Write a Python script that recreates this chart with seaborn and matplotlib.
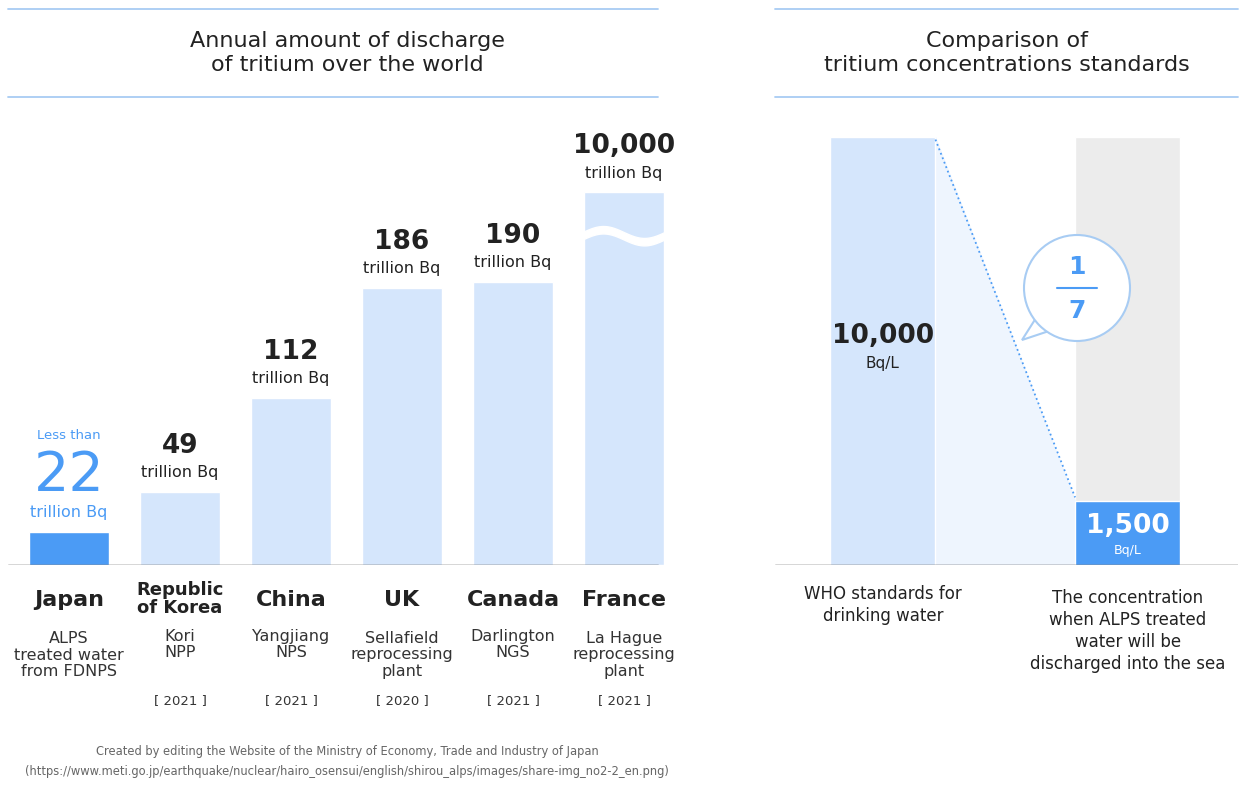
import numpy as np
import matplotlib.pyplot as plt
import seaborn as sns
from matplotlib.patches import Ellipse, Polygon

plt.rcParams['font.family'] = 'Noto Sans'
sns.set_style('white')

W, H = 1245, 786

# data
countries = ['Japan', 'Republic\nof Korea', 'China', 'UK', 'Canada', 'France']
facilities = ['ALPS\ntreated water\nfrom FDNPS', 'Kori\nNPP', 'Yangjiang\nNPS',
              'Sellafield\nreprocessing\nplant', 'Darlington\nNGS', 'La Hague\nreprocessing\nplant']
years = ['', '2021', '2021', '2020', '2021', '2021']
discharge = [22, 49, 112, 186, 190, 10000]   # trillion Bq
display_cap = 250                             # France drawn with axis break

std_labels = ['WHO standards for\ndrinking water',
              'The concentration\nwhen ALPS treated\nwater will be\ndischarged into the sea']
std_values = [10000, 1500]                    # Bq/L

LIGHT = '#d5e6fc'
BLUE = '#4b9bf5'
GRAY = '#ececec'
LINE = '#a8ccf3'
DARK = '#222222'

fig = plt.figure(figsize=(W / 100, H / 100), dpi=100)

def fx(x):
    return x / W

def fy(y):
    return 1 - y / H

def ftext(x, y, s, **kw):
    fig.text(fx(x), fy(y), s, ha='center', va='center', color=kw.pop('color', DARK), **kw)

# ---------- left chart ----------
axL = fig.add_axes([fx(8), fy(565), fx(660), (565 - 100) / H])
shown = [min(v, display_cap) for v in discharge]
idx = list(range(len(countries)))
cols = [BLUE] + [LIGHT] * 5
sns.barplot(x=idx, y=shown, palette=cols, hue=idx, legend=False, saturation=1,
            width=0.72, ax=axL, native_scale=True)
axL.set_xlim(-0.55, 5.4)
axL.set_ylim(0, 465 / 1.49)
axL.axis('off')
axL.axhline(0, xmax=650 / 660, color='#333333', lw=1)

# axis break wave on France bar
xs = np.linspace(5 - 0.37, 5 + 0.37, 200)
wave = 221 + 4 * np.sin((xs - xs[0]) / 0.74 * 2 * np.pi)
axL.fill_between(xs, wave - 2.5, wave + 2.5, color='white', zorder=5)

for i, v in enumerate(discharge):
    top = shown[i]
    if i == 0:
        axL.text(i, top + 65, 'Less than', ha='center', va='center', color=BLUE, fontsize=9.5)
        axL.text(i, top + 38, f'{v}', ha='center', va='center', color=BLUE, fontsize=40)
        axL.text(i, top + 13, 'trillion Bq', ha='center', va='center', color=BLUE, fontsize=11.5)
    else:
        axL.text(i, top + 31, f'{v:,}', ha='center', va='center', color=DARK,
                 fontsize=19, fontweight='semibold')
        axL.text(i, top + 13, 'trillion Bq', ha='center', va='center', color=DARK, fontsize=11.5)

centers = [69, 180, 291, 402, 513, 624]
for i, cx in enumerate(centers):
    if '\n' in countries[i]:
        ftext(cx, 599, countries[i], fontsize=13, fontweight='semibold', linespacing=1.05)
    else:
        ftext(cx, 600, countries[i], fontsize=16, fontweight='semibold')
    n = facilities[i].count('\n') + 1
    ftext(cx, 634 + (n - 1) * 10.5 if n > 1 else 645, facilities[i], fontsize=11.5,
          color='#333333', linespacing=1.15)
    if years[i]:
        ftext(cx, 701, f'[ {years[i]} ]', fontsize=9.5, color='#333333')

ftext(347, 53, 'Annual amount of discharge\nof tritium over the world', fontsize=16, linespacing=1.25)
for y in (9, 97):
    fig.add_artist(plt.Line2D([fx(8), fx(658)], [fy(y), fy(y)], color=LINE, lw=1.3))

ftext(347, 761, 'Created by editing the Website of the Ministry of Economy, Trade and Industry of Japan\n'
      '(https://www.meti.go.jp/earthquake/nuclear/hairo_osensui/english/shirou_alps/images/share-img_no2-2_en.png)',
      fontsize=8.3, color='#666666', linespacing=1.7)

# ---------- right chart ----------
axR = fig.add_axes([fx(775), fy(565), fx(463), (565 - 100) / H])
axR.set_xlim(-0.44, 1.45)
ymax = std_values[0] * 465 / 428
axR.set_ylim(0, ymax)
axR.axis('off')
bw = 0.43
axR.bar([1], [std_values[0]], width=bw, color=GRAY, zorder=1)
sns.barplot(x=[0, 1], y=std_values, hue=[0, 1], palette=[LIGHT, BLUE], legend=False,
            saturation=1, width=bw, native_scale=True, ax=axR, zorder=2)
axR.add_patch(Polygon([(bw / 2, std_values[0]), (bw / 2, 0), (1 - bw / 2, 0),
                       (1 - bw / 2, std_values[1])], closed=True, color='#eef5fe', zorder=1))
axR.plot([bw / 2, 1 - bw / 2], [std_values[0] - 60, std_values[1] + 80], ls=':', color=BLUE, lw=1.3, zorder=3)
axR.axhline(0, color='#333333', lw=1)

axR.text(0, 5350, f'{std_values[0]:,}', ha='center', va='center', fontsize=19,
         fontweight='semibold', color=DARK)
axR.text(0, 4700, 'Bq/L', ha='center', va='center', fontsize=11, color=DARK)
axR.text(1, 900, f'{std_values[1]:,}', ha='center', va='center', fontsize=19,
         fontweight='semibold', color='white', zorder=4)
axR.text(1, 330, 'Bq/L', ha='center', va='center', fontsize=9, color='white', zorder=4)

# 1/7 speech bubble
tail = Polygon([(fx(1036), fy(318)), (fx(1022), fy(340)), (fx(1052), fy(330))], closed=True,
               transform=fig.transFigure, facecolor='white', edgecolor=LINE, lw=1.5, zorder=5)
fig.add_artist(tail)
bub = Ellipse((fx(1077), fy(288)), 106 / W, 106 / H, transform=fig.transFigure, facecolor='white',
              edgecolor=LINE, lw=1.5, zorder=6)
fig.add_artist(bub)
ftext(1077, 267, '1', fontsize=18, fontweight='semibold', color=BLUE, zorder=7)
ftext(1077, 311, '7', fontsize=18, fontweight='semibold', color=BLUE, zorder=7)
fig.add_artist(plt.Line2D([fx(1057), fx(1097)], [fy(288), fy(288)], color=BLUE, lw=1.5, zorder=7))

ftext(883, 605, std_labels[0], fontsize=12, linespacing=1.3)
ftext(1128, 631, std_labels[1], fontsize=12, linespacing=1.3)

ftext(1007, 53, 'Comparison of\ntritium concentrations standards', fontsize=16, linespacing=1.25)
for y in (9, 97):
    fig.add_artist(plt.Line2D([fx(775), fx(1238)], [fy(y), fy(y)], color=LINE, lw=1.3))

fig.savefig('out.png', dpi=100, facecolor='white')
